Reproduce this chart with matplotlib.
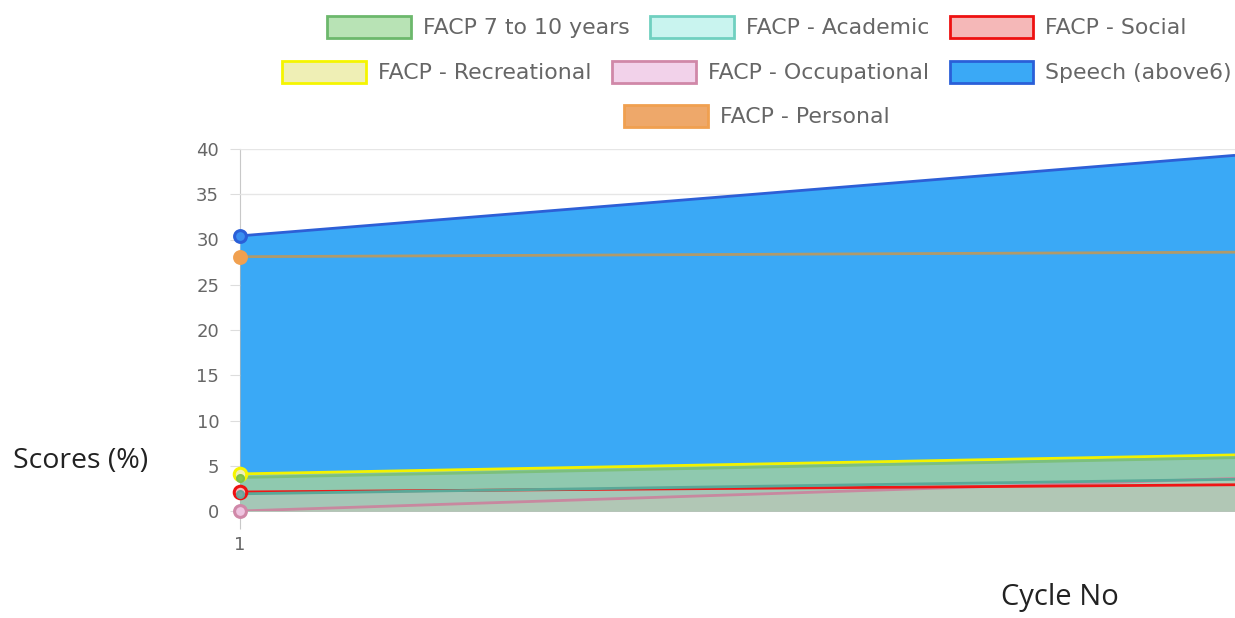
import matplotlib
matplotlib.use("Agg")
import matplotlib.pyplot as plt
from matplotlib.patches import Patch

# data (cycle 1 and the visible right edge)
cycles = [1, 2]
facp_7_10 = [3.7, 5.9]
academic = [1.9, 3.5]
social = [2.1, 2.9]
recreational = [4.1, 6.2]
occupational = [0.0, 3.6]
speech = [30.4, 39.3]
personal = [28.1, 28.6]

labels = ["FACP 7 to 10 years", "FACP - Academic", "FACP - Social",
          "FACP - Recreational", "FACP - Occupational", "Speech (above6)",
          "FACP - Personal"]
series = [facp_7_10, academic, social, recreational, occupational, speech, personal]

# legend box colours
box_face = ["#b8e3b5", "#c9f4ef", "#f5b8b8", "#efefb5", "#f2d2ea", "#3aa9f6", "#eea86a"]
box_edge = ["#6cb86c", "#70d0c0", "#ee1111", "#f5f500", "#d088a8", "#2a5fd8", "#f0a050"]
# how the area fills / lines / points come out on screen
fill_col = ["#8fc9b0", "#c8e1e6", "#f08c8c", "#e4e96a", "#e6aad2", "#3aa9f6", "#eea86a"]
fill_alpha = [0.25, 0.3, 0.2, 0.5, 0.35, 1.0, 1.0]
line_col = ["#7cc07c", "#5aa898", "#f01515", "#f2f200", "#c8889f", "#2d5fd6", "#b09a6a"]
dot_face = ["#86c84e", "#7aa8a0", "#f5b8b8", "#efefb5", "#eec4e0", "#3a8ff0", "#f0a050"]
dot_edge = ["#7cc04c", "#6aa498", "#ee1111", "#f5f500", "#d088a8", "#2a5fd8", "#f0a050"]
dot_size = [5, 5, 9, 9, 8.5, 8.5, 8.5]
dot_ew = [1.5, 1.5, 2.2, 2.2, 2.2, 2.2, 2.2]

fig = plt.figure(figsize=(12.35, 6.18), dpi=100)
ax = fig.add_axes([240 / 1235, 107 / 618, 995 / 1235, 362 / 618])

# chart.js draws the last dataset first
for i in reversed(range(len(series))):
    ax.fill_between(cycles, 0, series[i], color=fill_col[i], alpha=fill_alpha[i],
                    linewidth=0, zorder=2)
for i in reversed(range(len(series))):
    ax.plot(cycles, series[i], color=line_col[i], lw=2.0, zorder=3,
            solid_capstyle="butt")
for i in reversed(range(len(series))):
    ax.plot(cycles[:1], series[i][:1], "o", ms=dot_size[i], mfc=dot_face[i],
            mec=dot_edge[i], mew=dot_ew[i], zorder=4, clip_on=False)

ax.set_xlim(1, 2)
ax.set_ylim(0, 40)
ax.set_yticks(range(0, 41, 5))
ax.set_xticks([1])
ax.set_xticklabels(["1"])
ax.grid(axis="y", color="#e6e6e6", lw=1, zorder=0)
ax.axhline(0, color="#c8c8c8", lw=1, zorder=1)
for s in ["top", "right", "bottom"]:
    ax.spines[s].set_visible(False)
ax.spines["left"].set_color("#c8c8c8")
ax.spines["left"].set_zorder(1)
ax.tick_params(axis="y", length=7, color="#dddddd", labelcolor="#666666",
               labelsize=13, pad=8)
ax.tick_params(axis="x", length=13, color="#c8c8c8", labelcolor="#666666",
               labelsize=13, pad=5)

fig.text(81 / 1235, 1 - 461 / 618, "Scores (%)", ha="center", va="center",
         fontsize=20.5, family="Open Sans", color="#222222")
fig.text(1060 / 1235, 1 - 597 / 618, "Cycle No", ha="center", va="center",
         fontsize=21, family="Open Sans", color="#222222")

handles = [Patch(facecolor=box_face[i], edgecolor=box_edge[i], lw=2) for i in range(len(labels))]
rows = [[0, 1, 2], [3, 4, 5], [6]]
row_y = [1 - 27 / 618, 1 - 72 / 618, 1 - 116 / 618]
for r, yy in zip(rows, row_y):
    fig.legend([handles[i] for i in r], [labels[i] for i in r], loc="center",
               bbox_to_anchor=(757 / 1235, yy), ncol=len(r), frameon=False,
               fontsize=15.8, labelcolor="#666666", handlelength=3.8,
               handleheight=1.15, handletextpad=0.55, columnspacing=0.95,
               borderpad=0, borderaxespad=0)

fig.savefig("out.png", dpi=100)
